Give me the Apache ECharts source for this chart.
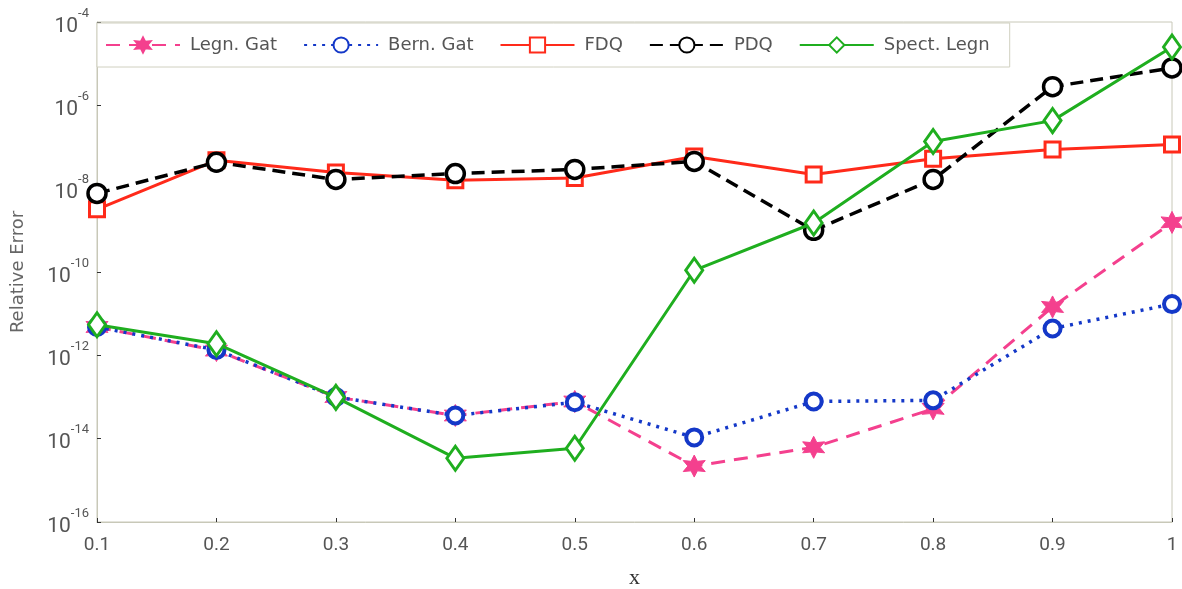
<!DOCTYPE html>
<html>
<head>
<meta charset="utf-8">
<style>
  html, body { margin: 0; padding: 0; background: #fff; }
  #chart { width: 1182px; height: 589px; }
</style>
<script src="https://cdn.jsdelivr.net/npm/echarts@6/dist/echarts.min.js"></script>
</head>
<body>
<div id="chart"></div>
<script>
// x positions
const xs = [0.1, 0.2, 0.3, 0.4, 0.5, 0.6, 0.7, 0.8, 0.9, 1.0];

// relative error of each method
const legnGat  = [4.8e-12, 1.3e-12, 1.0e-13, 3.6e-14, 7.8e-14, 2.2e-15, 6.2e-15, 5.2e-14, 1.45e-11, 1.55e-9];
const bernGat  = [4.8e-12, 1.35e-12, 1.0e-13, 3.6e-14, 7.5e-14, 1.07e-14, 7.8e-14, 8.3e-14, 4.4e-12, 1.7e-11];
const fdq      = [3.2e-9, 4.8e-8, 2.45e-8, 1.6e-8, 1.8e-8, 5.9e-8, 2.2e-8, 5.2e-8, 8.7e-8, 1.15e-7];
const pdq      = [7.7e-9, 4.3e-8, 1.66e-8, 2.3e-8, 2.9e-8, 4.5e-8, 1.0e-9, 1.66e-8, 2.8e-6, 7.9e-6];
const spectLeg = [5.4e-12, 1.9e-12, 9.8e-14, 3.4e-15, 5.9e-15, 1.1e-10, 1.5e-9, 1.35e-7, 4.3e-7, 2.5e-5];

const seriesNames = ['Legn. Gat', 'Bern. Gat', 'FDQ', 'PDQ', 'Spect. Legn'];

// six-pointed star marker
function starPath(points, inner) {
  let d = '';
  for (let i = 0; i < points * 2; i++) {
    const r = i % 2 === 0 ? 1 : inner;
    const a = Math.PI / points * i - Math.PI / 2;
    d += (i === 0 ? 'M' : 'L') + (r * Math.cos(a)).toFixed(3) + ' ' + (r * Math.sin(a)).toFixed(3);
  }
  return 'path://' + d + 'Z';
}
const star = starPath(6, 0.5);

const pair = arr => xs.map((x, i) => [x, arr[i]]);

const chart = echarts.init(document.getElementById('chart'));

chart.setOption({
  animation: false,
  backgroundColor: '#fff',
  grid: {
    left: 97, right: 10, top: 22, bottom: 67,
    outerBoundsMode: 'none',
    show: true, borderColor: '#c8c8b8', borderWidth: 1, backgroundColor: 'transparent'
  },
  legend: {
    data: seriesNames,
    left: 97, top: 23,
    orient: 'horizontal',
    itemWidth: 74, itemHeight: 19, itemGap: 26,
    padding: [13, 20, 13, 8],
    backgroundColor: '#fff',
    borderColor: '#d0d0c0', borderWidth: 1,
    textStyle: { fontFamily: 'DejaVu Sans', fontSize: 18, color: '#555', padding: [0, 0, 0, 5] }
  },
  xAxis: {
    type: 'value',
    min: 0.1, max: 1, interval: 0.1,
    name: 'x', nameLocation: 'middle', nameGap: 45,
    nameTextStyle: { fontFamily: 'Liberation Serif', fontSize: 22, color: '#333' },
    axisLine: { lineStyle: { color: '#c8c8b8' } },
    axisTick: { inside: true, length: 4, lineStyle: { color: '#333' } },
    splitLine: { show: false },
    axisLabel: {
      margin: 14, fontFamily: 'Roboto', fontSize: 19, color: '#555',
      formatter: v => String(+v.toFixed(1))
    }
  },
  yAxis: {
    type: 'log', logBase: 10,
    min: 1e-16, max: 1e-4, interval: 2,
    name: 'Relative Error', nameLocation: 'middle', nameGap: 70, nameRotate: 90,
    nameTextStyle: { fontFamily: 'DejaVu Sans', fontSize: 18, color: '#666' },
    axisLine: { lineStyle: { color: '#c8c8b8' } },
    axisTick: { inside: true, length: 4, lineStyle: { color: '#333' } },
    minorTick: { show: false },
    splitLine: { show: false },
    axisLabel: {
      margin: 8,
      formatter: v => '{b|10}{s|' + Math.round(Math.log10(v)) + '}',
      rich: {
        b: { fontFamily: 'Roboto', fontSize: 21, color: '#555', lineHeight: 30, verticalAlign: 'bottom' },
        s: { fontFamily: 'Roboto', fontSize: 13, color: '#555', lineHeight: 30, verticalAlign: 'top' }
      }
    }
  },
  series: [
    {
      name: 'Legn. Gat', type: 'line', z: 3,
      data: pair(legnGat),
      symbol: star, symbolSize: 22,
      itemStyle: { color: '#f4408e', borderColor: '#f4408e', borderWidth: 1 },
      lineStyle: { color: '#f4408e', width: 3, type: [14, 9] }
    },
    {
      name: 'Bern. Gat', type: 'line', z: 4,
      data: pair(bernGat),
      symbol: 'circle', symbolSize: 16,
      itemStyle: { color: '#fff', borderColor: '#1438c8', borderWidth: 4 },
      lineStyle: { color: '#1438c8', width: 3.5, type: [3, 6] }
    },
    {
      name: 'FDQ', type: 'line', z: 2,
      data: pair(fdq),
      symbol: 'rect', symbolSize: 15,
      itemStyle: { color: '#fff', borderColor: '#ff2a1a', borderWidth: 3 },
      lineStyle: { color: '#ff2a1a', width: 3 }
    },
    {
      name: 'PDQ', type: 'line', z: 3,
      data: pair(pdq),
      symbol: 'circle', symbolSize: 18,
      itemStyle: { color: '#fff', borderColor: '#000', borderWidth: 3.5 },
      lineStyle: { color: '#000', width: 3.5, type: [13, 7] }
    },
    {
      name: 'Spect. Legn', type: 'line', z: 5,
      data: pair(spectLeg),
      symbol: 'diamond', symbolSize: [17, 24],
      itemStyle: { color: '#fff', borderColor: '#1fae1f', borderWidth: 3 },
      lineStyle: { color: '#1fae1f', width: 3 }
    }
  ]
});
</script>
</body>
</html>
